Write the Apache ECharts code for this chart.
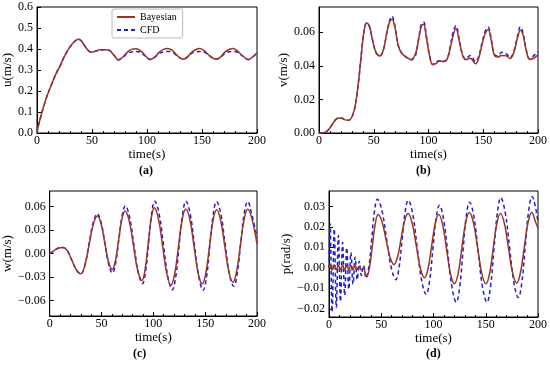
<!DOCTYPE html>
<html>
<head>
<meta charset="utf-8">
<script src="https://cdn.jsdelivr.net/npm/echarts@6/dist/echarts.min.js"></script>
<style>html,body{margin:0;padding:0;background:#fff;}#c{width:550px;height:366px;}</style>
</head>
<body>
<div id="c"></div>
<script>
// ---- tick labels ----
const xTicks = [0, 50, 100, 150, 200];
const uTicks = [0, 0.1, 0.2, 0.3, 0.4, 0.5, 0.6];
const vTicks = [0, 0.02, 0.04, 0.06];
const wTicks = [-0.06, -0.03, 0, 0.03, 0.06];
const pTicks = [-0.02, -0.01, 0, 0.01, 0.02, 0.03];
const seriesNames = ['Bayesian', 'CFD'];
const panelLabels = ['(a)', '(b)', '(c)', '(d)'];

// ---- (a) u ----
const tU = [0,1,3,6,9,12,15,18,21,24,27,30,33,36,38,40,43,46,49,53,57,62,66,70,74,78,82,86,90,94,98,103,107,111,115,119,123,128,133,137,141,145,148,152,157,163,167,171,175,178,182,187,192,196,200];
const uBayes = [0,0.03,0.07,0.125,0.175,0.215,0.255,0.29,0.32,0.355,0.385,0.41,0.43,0.443,0.447,0.44,0.418,0.396,0.385,0.389,0.396,0.397,0.393,0.37,0.349,0.362,0.384,0.398,0.401,0.392,0.371,0.350,0.362,0.384,0.398,0.402,0.393,0.366,0.351,0.364,0.386,0.399,0.402,0.392,0.368,0.351,0.363,0.386,0.399,0.402,0.392,0.367,0.350,0.362,0.382];
const uCFD = [0,0.03,0.07,0.125,0.175,0.215,0.255,0.29,0.32,0.355,0.385,0.41,0.43,0.443,0.447,0.44,0.418,0.396,0.385,0.389,0.395,0.396,0.392,0.37,0.348,0.360,0.378,0.386,0.388,0.385,0.368,0.350,0.360,0.378,0.386,0.388,0.385,0.364,0.351,0.362,0.380,0.387,0.388,0.385,0.366,0.351,0.361,0.379,0.387,0.388,0.385,0.366,0.350,0.362,0.380];

// ---- (b) v ----
const tV = [0,4,8,12,15,18,21,24,27,30,33,36,39,41,43.5,46,49,52,55.5,59,62,64.5,66.5,69,72,75,79,84,88,91,93.5,95.5,98,101,104,107,110,114,117,120,122.5,125,128,131,134,138,143,146,149,152,154.5,157,160,163,167,171,174.5,178,181,184,186.5,189,192.5,196,200];
const vBayes = [0,0.0002,0.0015,0.005,0.0078,0.009,0.0088,0.0078,0.0076,0.0095,0.016,0.03,0.049,0.06,0.0655,0.0635,0.055,0.048,0.0458,0.05,0.06,0.066,0.0675,0.064,0.053,0.048,0.0455,0.0438,0.047,0.056,0.0635,0.0648,0.057,0.046,0.0406,0.0415,0.0428,0.0426,0.044,0.051,0.058,0.0622,0.055,0.0465,0.0436,0.0445,0.0412,0.045,0.053,0.0595,0.0615,0.056,0.0465,0.0452,0.0462,0.046,0.0444,0.048,0.056,0.0612,0.058,0.05,0.0438,0.0445,0.0465];
const vCFD = [0,0.0002,0.0015,0.005,0.0078,0.009,0.0088,0.0078,0.0076,0.0095,0.016,0.03,0.049,0.06,0.0655,0.0635,0.055,0.048,0.0458,0.05,0.06,0.067,0.0695,0.065,0.053,0.048,0.0455,0.0435,0.046,0.056,0.065,0.066,0.058,0.046,0.0408,0.0425,0.043,0.0428,0.044,0.052,0.06,0.0638,0.056,0.047,0.044,0.0462,0.0425,0.046,0.054,0.061,0.063,0.057,0.047,0.0458,0.048,0.0472,0.0448,0.049,0.057,0.0632,0.059,0.05,0.044,0.046,0.0485];

// ---- (c) w ----
const tWBayes = [0,4,8,13,17.25,21.5,25.75,30,34,38,42,46,49.6,53.15,56.7,60.3,63.4,66.5,69.6,72.7,76.8,80.85,84.9,89,92,95,98,101,105,109,113,117,120.6,124.2,127.7,131.3,135.3,139.25,143.2,147.2,150.65,154.1,157.55,161,164.95,168.9,172.85,176.8,180.35,183.9,187.45,191,195,200];
const wBayes = [0,0.0035,0.0068,0.0078,0.003,-0.009,-0.021,-0.026,-0.015,0.011,0.037,0.048,0.0378,0.0138,-0.0102,-0.0205,-0.0095,0.017,0.0435,0.0544,0.0415,0.01,-0.0215,-0.0345,-0.021,0.012,0.045,0.0585,0.044,0.009,-0.026,-0.0405,-0.026,0.0083,0.0428,0.057,0.043,0.009,-0.025,-0.039,-0.025,0.0085,0.042,0.056,0.0425,0.0095,-0.0235,-0.037,-0.023,0.0098,0.0428,0.0565,0.045,0.012];
const tWCFD = [0,4,8,13,17.25,21.5,25.75,30,34,38,42,46,49.6,53.25,56.9,60.5,63.6,66.75,69.9,73,77.1,81.25,85.4,89.5,92.5,95.45,98.4,101.4,105.6,109.85,114.1,118.3,121.6,124.9,128.2,131.5,135.6,139.75,143.9,148,151.25,154.5,157.75,161,165.1,169.25,173.4,177.5,180.9,184.25,187.6,191,195,200];
const wCFD = [0,0.0035,0.0068,0.0078,0.003,-0.009,-0.021,-0.026,-0.0147,0.0125,0.0397,0.051,0.0399,0.013,-0.0139,-0.025,-0.0124,0.018,0.0484,0.061,0.0464,0.0112,-0.024,-0.0386,-0.0231,0.0142,0.0515,0.067,0.0505,0.0103,-0.0299,-0.0465,-0.0299,0.0103,0.0505,0.067,0.0503,0.01,-0.0303,-0.047,-0.0304,0.0098,0.0499,0.0665,0.0507,0.0123,-0.0261,-0.042,-0.0261,0.0123,0.0507,0.0665,0.05,0.02];

// ---- (d) p ----
const tPBayes = [0,1,3,5,7,9,11,13,15,17,19,21,23,25,27,29,31,33,36,38.75,41.5,44.25,47,50.8,54.6,58.4,62.2,65.55,68.9,72.25,75.6,79.55,83.5,87.45,91.4,94.8,98.2,101.6,105,108.75,112.5,116.25,120,123.6,127.15,130.7,134.3,138.3,142.25,146.2,150.2,153.65,157.1,160.55,164,167.9,171.8,175.7,179.6,183.2,186.8,190.4,194,197.9,200];
const pBayes = [0,0.0016,-0.0012,0.0015,-0.0011,0.0014,-0.001,0.0013,-0.001,0.0012,-0.0009,0.0011,-0.0009,0.001,-0.0008,0.0008,-0.001,-0.0006,-0.0044,0.0001,0.0108,0.0215,0.026,0.0224,0.0138,0.0052,0.0016,0.0052,0.014,0.0228,0.0265,0.0219,0.0108,-0.0003,-0.0049,-0.0004,0.0106,0.0215,0.026,0.0211,0.0091,-0.0029,-0.0078,-0.0027,0.0096,0.0219,0.027,0.0219,0.0096,-0.0027,-0.0078,-0.0028,0.0094,0.0215,0.0265,0.0215,0.0095,-0.0025,-0.0075,-0.0024,0.0098,0.0219,0.027,0.022,0.0195];
const tPCFD = [0,1,3,5,7,9,11,13,15,17,19,21,23,25,27,29,31,33,35.5,38.2,40.9,43.6,46.3,50.7,55.15,59.6,64,66.95,69.9,72.85,75.8,80.1,84.4,88.7,93,96.2,99.35,102.5,105.7,109.7,113.75,117.8,121.8,125,128.15,131.3,134.5,138.7,142.85,147,151.2,154.5,157.8,161.1,164.4,168.6,172.8,177,181.2,184.5,187.75,191,194.3,198,200];
const pCFD = [0,0.0215,-0.0215,0.019,-0.0195,0.0158,-0.0165,0.0125,-0.0135,0.0098,-0.0105,0.0075,-0.008,0.0052,-0.0058,0.0032,-0.0038,0.0012,-0.005,0.0006,0.0143,0.0279,0.0335,0.0278,0.0139,0.0,-0.0058,-0.0001,0.0136,0.0273,0.033,0.0263,0.01,-0.0063,-0.013,-0.0066,0.0088,0.0241,0.0305,0.0236,0.0069,-0.0099,-0.0168,-0.0097,0.0076,0.0249,0.032,0.0249,0.0076,-0.0097,-0.0168,-0.0093,0.0087,0.0267,0.0342,0.0271,0.0099,-0.0074,-0.0145,-0.0073,0.0102,0.0276,0.0348,0.0285,0.022];

// ---- build ----
const FONT = 'Liberation Serif';
const BAYES_COLOR = '#9a3524';
const CFD_COLOR = '#1e1ed2';
const pairs = (t, v) => t.map((x, i) => [x, v[i]]);
const fmt = d => v => { const s = Math.abs(v).toFixed(d); return (v < -1e-9 ? '\u2212' : '') + s; };

const grids = [
  {left: 37, top: 7, width: 220, height: 126},
  {left: 319, top: 7, width: 220, height: 126},
  {left: 48, top: 191, width: 209, height: 125},
  {left: 329, top: 191, width: 210, height: 126}
].map(g => Object.assign({show: true, borderColor: '#000', borderWidth: 1, backgroundColor: 'transparent'}, g));

const xAxes = [0,1,2,3].map(i => ({
  type: 'value', gridIndex: i, min: 0, max: 200, interval: 50,
  name: 'time(s)', nameLocation: 'middle', nameGap: 12,
  nameTextStyle: {color: '#000', fontFamily: FONT, fontSize: 13},
  axisLine: {show: true, onZero: false, lineStyle: {color: '#000', width: 1}},
  axisTick: {show: true, inside: true, length: 4, lineStyle: {color: '#000'}, customValues: xTicks},
  minorTick: {show: true, splitNumber: 5, length: 2, lineStyle: {color: '#000'}},
  splitLine: {show: false},
  axisLabel: {color: '#000', fontFamily: FONT, fontSize: 12, margin: 2, customValues: xTicks}
}));

const yDefs = [
  {name: 'u(m/s)', min: 0, max: 0.6, ticks: uTicks, dec: 1, gap: 21},
  {name: 'v(m/s)', min: 0, max: 0.075, ticks: vTicks, dec: 2, gap: 27},
  {name: 'w(m/s)', min: -0.08, max: 0.08, ticks: wTicks, dec: 2, gap: 34},
  {name: 'p(rad/s)', min: -0.024, max: 0.0375, ticks: pTicks, dec: 2, gap: 36}
];
const yAxes = yDefs.map((d, i) => ({
  type: 'value', gridIndex: i, min: d.min, max: d.max,
  name: d.name, nameLocation: 'middle', nameGap: d.gap, nameRotate: 90,
  nameTextStyle: {color: '#000', fontFamily: FONT, fontSize: 13},
  axisLine: {show: true, onZero: false, lineStyle: {color: '#000', width: 1}},
  axisTick: {show: true, inside: true, length: 4, lineStyle: {color: '#000'}, customValues: d.ticks},
  splitLine: {show: false},
  axisLabel: {color: '#000', fontFamily: FONT, fontSize: 12, margin: 4, customValues: d.ticks, formatter: fmt(d.dec)}
}));

const data = [
  [pairs(tU, uBayes), pairs(tU, uCFD)],
  [pairs(tV, vBayes), pairs(tV, vCFD)],
  [pairs(tWBayes, wBayes), pairs(tWCFD, wCFD)],
  [pairs(tPBayes, pBayes), pairs(tPCFD, pCFD)]
];
const series = [];
data.forEach((d, i) => {
  series.push({
    name: seriesNames[0], type: 'line', xAxisIndex: i, yAxisIndex: i, data: d[0],
    smooth: 0.4, symbol: 'none', showSymbol: false, z: 3, color: BAYES_COLOR,
    lineStyle: {color: BAYES_COLOR, width: 1.5}
  });
  series.push({
    name: seriesNames[1], type: 'line', xAxisIndex: i, yAxisIndex: i, data: d[1],
    smooth: 0.4, symbol: 'none', showSymbol: false, z: 2, color: CFD_COLOR,
    lineStyle: {color: CFD_COLOR, width: 1.5, type: [4, 3]}
  });
});

const labelPos = [[148, 173], [425, 173], [142, 356], [435, 356]];
const graphics = panelLabels.map((t, i) => ({
  type: 'text', left: labelPos[i][0] - 9, top: labelPos[i][1] - 8,
  style: {text: t, fontFamily: FONT, fontSize: 12, fontWeight: 'bold', fill: '#000'}
}));

const chart = echarts.init(document.getElementById('c'), null, {renderer: 'canvas'});
chart.setOption({
  animation: false,
  backgroundColor: '#fff',
  grid: grids,
  xAxis: xAxes,
  yAxis: yAxes,
  legend: {
    data: seriesNames, orient: 'vertical', left: 112, top: 9,
    itemWidth: 18, itemHeight: 10, itemGap: 3, padding: [3, 6, 3, 4],
    borderColor: '#bbb', borderWidth: 1, borderRadius: 2, backgroundColor: '#fff',
    itemStyle: {opacity: 0},
    textStyle: {fontFamily: FONT, fontSize: 10, color: '#000'}
  },
  graphic: graphics,
  series: series
});
</script>
</body>
</html>
